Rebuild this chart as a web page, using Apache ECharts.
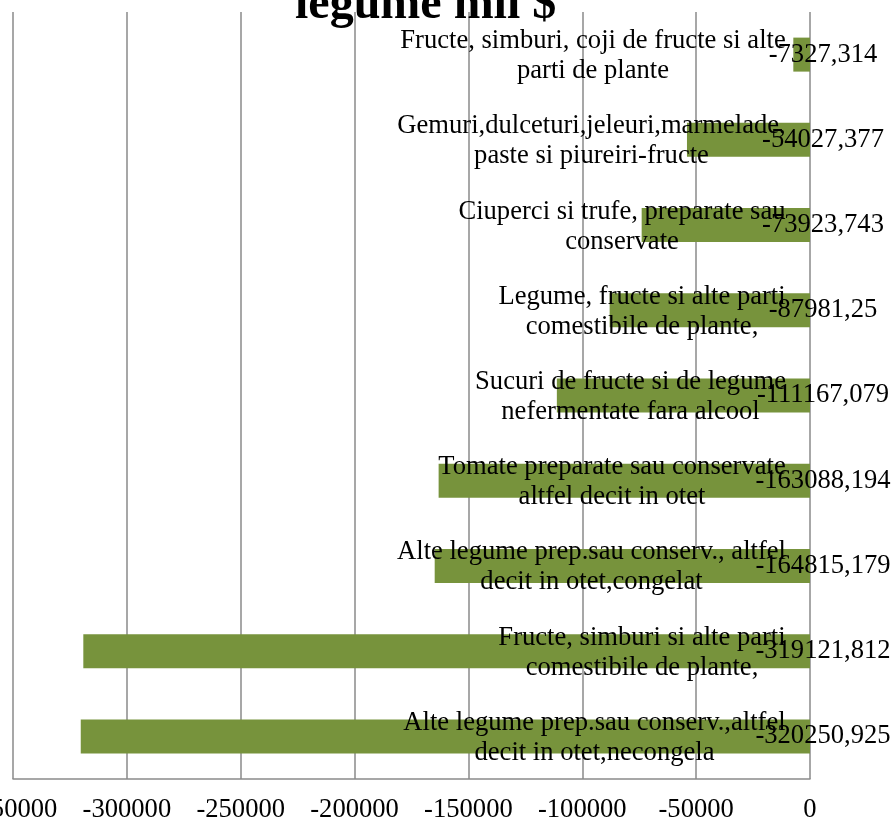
<!DOCTYPE html>
<html>
<head>
<meta charset="utf-8">
<script src="https://cdn.jsdelivr.net/npm/echarts@6/dist/echarts.min.js"></script>
<style>
html,body{margin:0;padding:0;background:#fff;}
#chart{width:892px;height:822px;}
</style>
</head>
<body>
<div id="chart"></div>
<script>
var titleText = 'legume mil $';
var categories = [
  'Fructe, simburi, coji de fructe si alte\nparti de plante',
  'Gemuri,dulceturi,jeleuri,marmelade,\npaste si piureiri-fructe',
  'Ciuperci si trufe, preparate sau\nconservate',
  'Legume, fructe si alte parti\ncomestibile de plante,',
  'Sucuri de fructe si de legume\nnefermentate fara alcool',
  'Tomate preparate sau conservate\naltfel decit in otet',
  'Alte legume prep.sau conserv., altfel\ndecit in otet,congelat',
  'Fructe, simburi si alte parti\ncomestibile de plante,',
  'Alte legume prep.sau conserv.,altfel\ndecit in otet,necongela'
];
var values = [-7327.314, -54027.377, -73923.743, -87981.25, -111167.079, -163088.194, -164815.179, -319121.812, -320250.925];
var xMin = -350000, xMax = 0, xStep = 50000;

var FONT = '"Liberation Serif", "Times New Roman", serif';
var FS = 26.6;

var ctx = document.createElement('canvas').getContext('2d');
ctx.font = FS + 'px "Liberation Serif"';
var rich = {};
categories.forEach(function (c, i) {
  var w = 0;
  c.split('\n').forEach(function (l) { w = Math.max(w, ctx.measureText(l).width); });
  rich['c' + i] = { width: Math.ceil(w) + 2, align: 'center', fontSize: FS, lineHeight: 30, fontFamily: FONT, color: '#000', padding: [3, 0, 0, 0] };
});

var chart = echarts.init(document.getElementById('chart'), null, { renderer: 'canvas' });
chart.setOption({
  animation: false,
  backgroundColor: '#fff',
  title: {
    text: titleText,
    left: 295,
    top: -18,
    padding: 0,
    textStyle: { fontFamily: FONT, fontWeight: 'bold', fontSize: 48, color: '#000', lineHeight: 48 }
  },
  grid: { left: 13, right: 82, top: 12, bottom: 43, containLabel: false, outerBoundsMode: 'none' },
  xAxis: {
    type: 'value',
    min: xMin, max: xMax, interval: xStep,
    axisLine: { show: true, onZero: false, lineStyle: { color: '#8a8a8a', width: 1.5 } },
    axisTick: { show: false },
    splitLine: { show: true, lineStyle: { color: '#8a8a8a', width: 1.5 } },
    axisLabel: {
      fontFamily: FONT, fontSize: FS, color: '#000', margin: 18,
      showMinLabel: true, showMaxLabel: true, hideOverlap: false,
      formatter: function (v) { return String(v); }
    }
  },
  yAxis: {
    type: 'category',
    data: categories,
    inverse: true,
    position: 'right',
    z: 10,
    axisLine: { show: false },
    axisTick: { show: false },
    splitLine: { show: false },
    axisLabel: {
      inside: true,
      interval: 0,
      margin: 23,
      align: 'right',
      formatter: function (val, idx) {
        return val.split('\n').map(function (l) { return '{c' + idx + '|' + l + '}'; }).join('\n');
      },
      rich: rich
    }
  },
  series: [{
    type: 'bar',
    data: values,
    barWidth: 34,
    itemStyle: { color: '#77933C' },
    z: 2,
    label: {
      show: true,
      position: 'right',
      distance: 13,
      align: 'center',
      fontFamily: FONT,
      fontSize: FS,
      color: '#000',
      formatter: function (p) { return String(p.value).replace('.', ','); }
    }
  }]
});
</script>
</body>
</html>
